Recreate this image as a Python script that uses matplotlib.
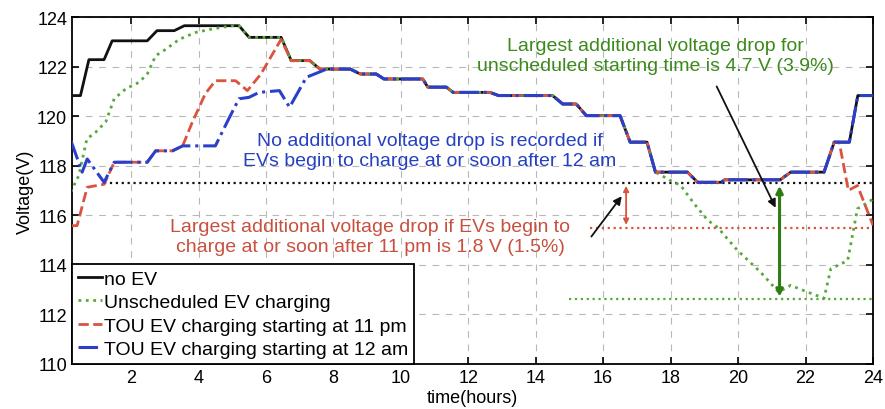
import matplotlib
matplotlib.use("Agg")
import matplotlib.pyplot as plt

plt.rcParams['font.family'] = ['Liberation Sans', 'DejaVu Sans']

# no-EV feeder voltage, (hour, volt) knots
base_t = [0.25, 0.5, 0.75, 1.2, 1.44, 2.48, 2.77, 3.28, 3.58, 5.2, 5.5, 6.45, 6.75, 7.3, 7.6,
          8.5, 8.8, 9.27, 9.5, 10.65, 10.8, 11.35, 11.55, 12.64, 12.9, 14.5, 14.8, 15.2, 15.5,
          16.5, 16.8, 17.3, 17.55, 18.5, 18.8, 19.5, 19.6, 21.25, 21.56, 22.55, 22.85, 23.3,
          23.55, 24.0]
base_v = [120.83, 120.83, 122.28, 122.28, 123.04, 123.04, 123.45, 123.45, 123.65, 123.65,
          123.18, 123.18, 122.24, 122.24, 121.9, 121.9, 121.7, 121.7, 121.5, 121.5, 121.17,
          121.17, 120.96, 120.96, 120.83, 120.83, 120.49, 120.49, 120.02, 120.02, 118.95,
          118.95, 117.74, 117.74, 117.33, 117.33, 117.43, 117.43, 117.74, 117.74, 118.95,
          118.95, 120.83, 120.83]

# unscheduled charging: morning ramp and evening dip, base voltage in between
unsch_head_t = [0.21, 0.45, 0.69, 0.95, 1.25, 1.5, 1.84, 2.24, 2.48, 2.73, 3.03, 3.43, 3.92, 4.41, 5.0]
unsch_head_v = [116.94, 117.6, 119.08, 119.35, 119.77, 120.7, 121.1, 121.37, 121.7, 122.44,
                122.7, 123.1, 123.38, 123.52, 123.65]
unsch_tail_t = [18.0, 18.3, 18.7, 19.1, 19.4, 19.97, 20.67, 21.2, 21.56, 22.06, 22.55, 22.75,
                23.25, 23.54, 23.94, 24.0]
unsch_tail_v = [117.4, 117.2, 116.46, 115.8, 115.5, 114.6, 113.7, 112.9, 113.17, 112.9, 112.65,
                113.84, 114.17, 116.26, 116.6, 116.65]

# TOU charging from 11 pm
tou11_head_t = [0.25, 0.4, 0.7, 1.2, 1.5, 2.48, 2.73, 3.23, 3.53, 3.82, 4.0, 4.2, 4.5, 5.1,
                5.45, 5.85, 6.45]
tou11_head_v = [115.58, 115.58, 117.13, 117.25, 118.14, 118.14, 118.6, 118.6, 118.8, 119.77,
                120.3, 120.9, 121.43, 121.43, 121.03, 121.7, 123.1]
tou11_tail_t = [23.0, 23.27, 23.54, 24.0]
tou11_tail_v = [118.95, 117.0, 117.2, 115.6]

# TOU charging from 12 am
tou12_head_t = [0.22, 0.55, 0.7, 1.2, 1.5, 2.48, 2.73, 3.23, 3.53, 4.5, 4.9, 5.2, 5.5, 5.8,
                6.4, 6.7, 7.2, 7.44, 7.8]
tou12_head_v = [119.0, 117.74, 118.27, 117.33, 118.14, 118.14, 118.6, 118.6, 118.8, 118.8,
                119.9, 120.7, 120.76, 120.96, 121.03, 120.36, 121.57, 121.7, 121.9]

v_min_noev = 117.3
v_min_tou11 = 115.5
v_min_unsch = 112.6
t_drop_tou11 = 16.68
t_drop_unsch = 21.23


def splice(head_t, head_v, tail_t=None, tail_v=None):
    t0 = head_t[-1]
    t1 = tail_t[0] if tail_t else 99
    t = list(head_t)
    v = list(head_v)
    for bt, bv in zip(base_t, base_v):
        if t0 < bt < t1:
            t.append(bt)
            v.append(bv)
    if tail_t:
        t += tail_t
        v += tail_v
    return t, v


unsch_t, unsch_v = splice(unsch_head_t, unsch_head_v, unsch_tail_t, unsch_tail_v)
tou11_t, tou11_v = splice(tou11_head_t, tou11_head_v, tou11_tail_t, tou11_tail_v)
tou12_t, tou12_v = splice(tou12_head_t, tou12_head_v)

c_black = '#111111'
c_green = '#5aa83a'
c_red = '#d9533f'
c_blue = '#2a40c8'

fig = plt.figure(figsize=(8.85, 4.1), dpi=100)
ax = fig.add_axes([0.0814, 0.11, 0.905, 0.846])

ax.plot(base_t, base_v, color=c_black, lw=2.0, label='no EV', zorder=3)
ax.plot(unsch_t, unsch_v, color=c_green, lw=2.0, ls=':', label='Unscheduled EV charging', zorder=4)
ax.plot(tou11_t, tou11_v, color=c_red, lw=2.0, ls='--', label='TOU EV charging starting at 11 pm', zorder=5)
ax.plot(tou12_t, tou12_v, color=c_blue, lw=2.2, ls='-.', label='TOU EV charging starting at 12 am', zorder=6)

# reference levels
ax.plot([1.2, 24], [v_min_noev, v_min_noev], color=c_black, lw=1.6, ls=':', zorder=2)
ax.plot([15.6, 24], [v_min_tou11, v_min_tou11], color=c_red, lw=1.6, ls=':', zorder=2)
ax.plot([15.0, 24], [v_min_unsch, v_min_unsch], color=c_green, lw=1.6, ls=':', zorder=2)

# drop arrows
ax.annotate('', xy=(t_drop_tou11, v_min_tou11), xytext=(t_drop_tou11, v_min_noev),
            arrowprops=dict(arrowstyle='<|-|>', color=c_red, lw=1.3, mutation_scale=8), zorder=7)
ax.annotate('', xy=(t_drop_unsch, v_min_unsch), xytext=(t_drop_unsch, v_min_noev),
            arrowprops=dict(arrowstyle='<|-|>', color='#2e7d12', lw=2.2, mutation_scale=10), zorder=7)
ax.annotate('', xy=(16.6, 116.86), xytext=(15.6, 115.05),
            arrowprops=dict(arrowstyle='-|>', color=c_black, lw=1.3, mutation_scale=12), zorder=7)
ax.annotate('', xy=(21.15, 116.2), xytext=(19.33, 121.3),
            arrowprops=dict(arrowstyle='-|>', color=c_black, lw=1.3, mutation_scale=12), zorder=7)

ax.text(17.55, 122.45, 'Largest additional voltage drop for\nunscheduled starting time is 4.7 V (3.9%)',
        color='#3b8a1c', fontsize=14, ha='center', va='center', linespacing=1.2)
ax.text(10.85, 118.62, 'No additional voltage drop is recorded if\nEVs begin to charge at or soon after 12 am',
        color='#2540c0', fontsize=14, ha='center', va='center', linespacing=1.2)
ax.text(9.1, 115.15, 'Largest additional voltage drop if EVs begin to\ncharge at or soon after 11 pm is 1.8 V (1.5%)',
        color='#c8503e', fontsize=14, ha='center', va='center', linespacing=1.2)

ax.set_xlim(0.25, 24)
ax.set_ylim(110, 124)
ax.set_xticks(range(2, 25, 2))
ax.set_yticks(range(110, 125, 2))
ax.tick_params(direction='in', top=True, right=True, labelsize=13, length=5, width=1.2)
ax.grid(True, ls=(0, (6, 6)), color='#b8b8b8', lw=0.8)
for s in ax.spines.values():
    s.set_linewidth(1.3)
ax.set_xlabel('time(hours)', fontsize=13, labelpad=2)
ax.set_ylabel('Voltage(V)', fontsize=13, labelpad=2)

leg = ax.legend(loc='lower left', fontsize=14, handlelength=1.25, handletextpad=0.1,
                borderpad=0.3, labelspacing=0.3, borderaxespad=0, fancybox=False,
                framealpha=1, edgecolor='black')
leg.get_frame().set_linewidth(1.3)

fig.savefig('out.png', dpi=100)
